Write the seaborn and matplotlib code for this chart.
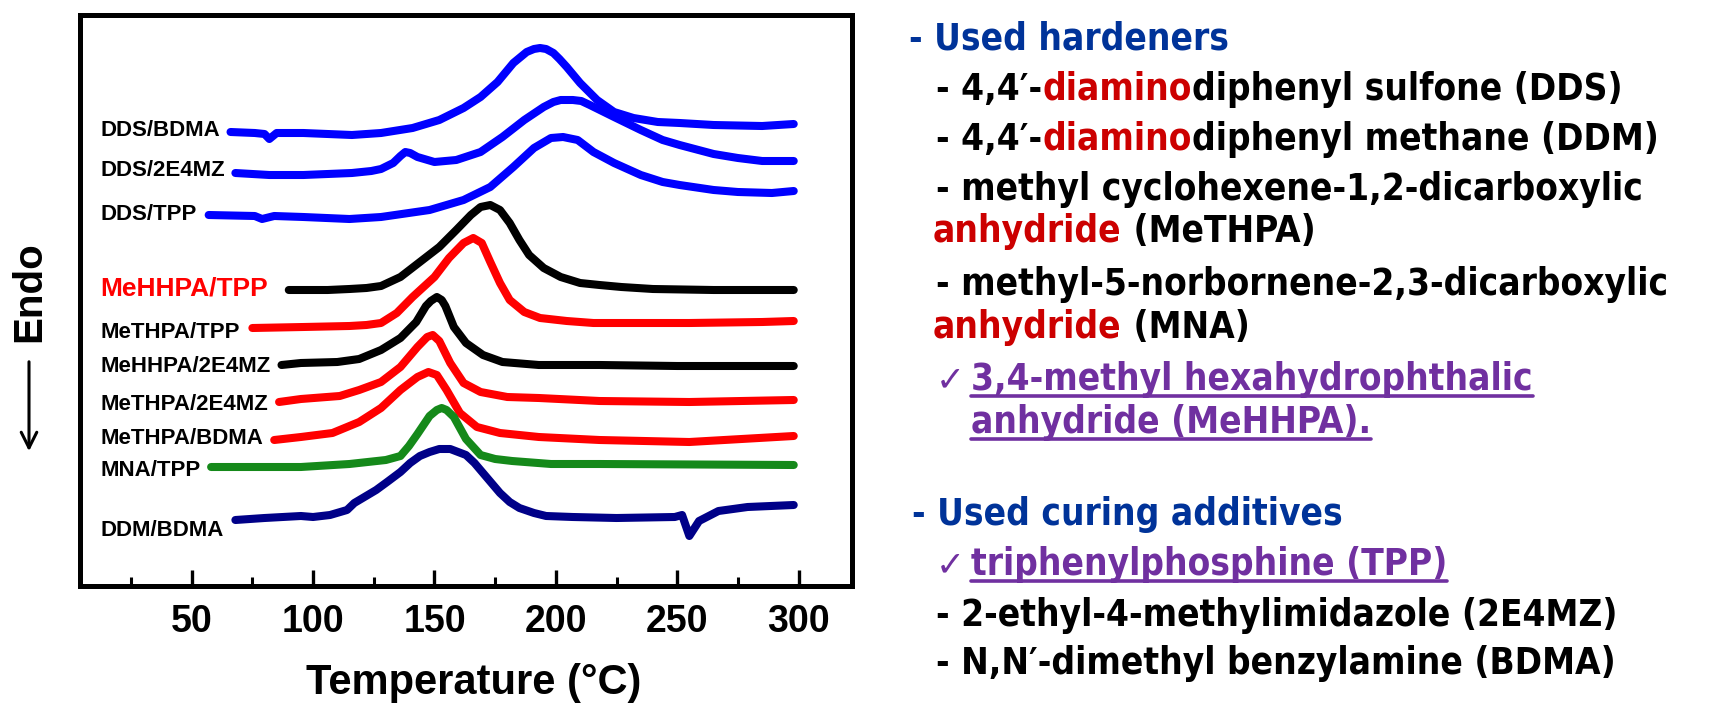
import matplotlib
matplotlib.use("Agg")
import matplotlib.pyplot as plt
from matplotlib.ticker import MultipleLocator
from matplotlib.lines import Line2D
import seaborn as sns

# DSC traces: temperature (C) and stacked heat flow (a.u.)
t_dds_bdma = [66, 76, 80, 82, 85, 96, 116, 128, 141, 152, 162, 169, 176, 182.5, 188, 191, 193.5, 196, 199, 201.5,
              204.5, 210, 217, 224, 232, 242, 251, 265, 285, 298]
hf_dds_bdma = [454, 453, 452, 447, 453, 453, 451, 453, 458, 466, 478, 489, 504, 523, 534, 537, 538, 537, 533, 527,
               519, 503, 486, 474, 468, 464, 463, 461, 460, 462]

t_dds_2e4mz = [68, 82, 96, 116, 124, 128, 133, 136, 138, 140, 143, 150, 159, 169, 178, 187, 195, 199, 202, 207,
               210.5, 214, 219, 224, 235, 244, 251, 265, 275, 285, 298]
hf_dds_2e4mz = [413, 411, 411, 413, 415, 417, 423, 430, 434, 433, 429, 424, 426, 434, 449, 466, 479, 484, 486, 486,
                485, 481, 475, 469, 456, 446, 441, 432, 428, 425, 425]

t_dds_tpp = [57, 76, 79, 84, 96, 115, 128, 148, 162, 173, 182.5, 191, 198, 203, 209, 215.5, 224, 235, 244, 251,
             265, 275, 289, 298]
hf_dds_tpp = [371, 370, 367, 370, 369, 367, 369, 376, 386, 399, 419, 438, 448, 449, 446, 434, 423, 411, 404, 401,
              396, 394, 393, 395]

t_mehhpa_tpp = [90, 106, 115, 122, 128, 136, 144, 152, 159, 165, 169, 173, 177, 181, 185, 189, 195, 202, 210, 218,
                227, 240, 265, 298]
hf_mehhpa_tpp = [296, 296, 297, 298, 300, 309, 324, 339, 356, 371, 379, 381, 376, 363, 346, 331, 318, 309, 303, 301,
                 299, 297, 296, 296]

t_methpa_tpp = [75, 96, 115, 122, 128, 134.5, 141, 150, 156, 162, 166, 169.5, 173, 177, 181, 187, 193.5, 204.5, 215.5,
                227, 255, 285, 298]
hf_methpa_tpp = [258, 259, 260, 261, 263, 273, 289, 309, 328, 343, 348, 343, 324, 303, 286, 274, 268, 265, 263,
                 263, 263, 264, 265]

t_mehhpa_2e4mz = [87, 95, 110, 119, 128, 136, 142.5, 146.5, 148.5, 151, 153, 154.5, 158, 163, 170, 178, 193, 218, 250, 298]
hf_mehhpa_2e4mz = [221, 223, 224, 227, 236, 248, 264, 280, 285, 289, 286, 280, 259, 243, 231, 224, 221, 221, 220, 220]

t_methpa_2e4mz = [86, 95, 111, 119, 128, 136, 143, 147, 149.3, 152, 156.5, 162, 169, 180, 193, 218, 255, 298]
hf_methpa_2e4mz = [184, 187, 190, 196, 204, 219, 239, 249, 251, 245, 223, 203, 194, 189, 188, 185, 184, 186]

t_methpa_bdma = [84, 95, 108, 119, 128, 136, 143, 147.5, 151, 155, 160.5, 167.5, 177, 193, 218, 255, 298]
hf_methpa_bdma = [146, 149, 153, 164, 178, 196, 209, 214, 211, 196, 173, 159, 153, 149, 146, 144, 150]

t_mna_tpp = [58, 95, 115, 130, 136, 139.5, 143, 148, 151, 153, 155, 158, 163, 169, 175, 182, 198, 218, 298]
hf_mna_tpp = [119, 119, 122, 126, 130, 140, 152, 170, 176, 178, 176, 169, 147, 131, 127, 125, 122, 122, 121]

t_ddm_bdma = [68, 80, 95, 100, 107, 114, 117, 126, 130.5, 136, 140, 144, 148, 152, 156.5, 163, 166.5, 170, 173.5, 177,
              181, 185, 191, 196, 207, 225, 249, 252, 255, 259, 267, 279, 298]
hf_ddm_bdma = [66, 68, 70, 69, 71, 76, 83, 96, 104, 114, 123, 130, 134, 137, 137, 131, 123, 113, 103, 93,
               84, 78, 73, 70, 69, 68, 69, 71, 50, 65, 75, 79, 81]

names = ["DDS/BDMA", "DDS/2E4MZ", "DDS/TPP", "MeHHPA/TPP", "MeTHPA/TPP",
         "MeHHPA/2E4MZ", "MeTHPA/2E4MZ", "MeTHPA/BDMA", "MNA/TPP", "DDM/BDMA"]
temps = [t_dds_bdma, t_dds_2e4mz, t_dds_tpp, t_mehhpa_tpp, t_methpa_tpp,
         t_mehhpa_2e4mz, t_methpa_2e4mz, t_methpa_bdma, t_mna_tpp, t_ddm_bdma]
flows = [hf_dds_bdma, hf_dds_2e4mz, hf_dds_tpp, hf_mehhpa_tpp, hf_methpa_tpp,
         hf_mehhpa_2e4mz, hf_methpa_2e4mz, hf_methpa_bdma, hf_mna_tpp, hf_ddm_bdma]
label_y = [455, 416, 371, 297, 254, 220, 181, 147, 116, 56]

line_colors = ["#0000ff", "#0000ff", "#0000ff", "black", "#ff0000",
               "black", "#ff0000", "#ff0000", "#15891a", "#000088"]

# text panel on the right
hdr_blue = "#003399"
txt_red = "#cc0000"
purple = "#7030a0"

sns.set_style("white")
plt.rcParams['font.family'] = ['Liberation Sans', 'DejaVu Sans']

W, H = 1717, 709
fig = plt.figure(figsize=(W / 100, H / 100), dpi=100)
ax = fig.add_axes([80 / W, 1 - 586 / H, 772 / W, 571 / H])

for t, hf, c in zip(temps, flows, line_colors):
    sns.lineplot(x=t, y=hf, ax=ax, color=c, lw=5.8, sort=False, estimator=None,
                 solid_capstyle='round', solid_joinstyle='round')

for name, ly in zip(names, label_y):
    big = name == "MeHHPA/TPP"
    ax.text(12.4, ly, name, ha='left', va='center', fontweight='bold',
            fontsize=19 if big else 16, color='#ff0000' if big else 'black')

ax.set_xlim(4, 322)
ax.set_ylim(0, 571)
ax.set_xticks([50, 100, 150, 200, 250, 300])
ax.xaxis.set_minor_locator(MultipleLocator(25))
ax.set_yticks([])
ax.tick_params(axis='x', which='major', direction='in', length=11.5, width=2.4,
               pad=13, labelsize=27, bottom=True, top=False, color='black', labelcolor='black')
ax.tick_params(axis='x', which='minor', direction='in', length=6.5, width=2.2,
               bottom=True, top=False, color='black')
for lbl in ax.get_xticklabels():
    lbl.set_fontweight('bold')
for sp in ax.spines.values():
    sp.set_linewidth(3.6)
    sp.set_color('black')
ax.set_xlabel('')
ax.set_ylabel('')

fig.text(474 / W, 1 - 683 / H, "Temperature (°C)", ha='center', va='center',
         fontsize=30, fontweight='bold', color='black')
fig.text(29 / W, 1 - 292 / H, "Endo", rotation=90, ha='center', va='center',
         fontsize=29, fontweight='bold', color='black')
ax.annotate('', xy=(29, H - 454), xytext=(29, H - 359), xycoords='figure pixels',
            textcoords='figure pixels',
            arrowprops=dict(arrowstyle='->', lw=2.2, color='black', mutation_scale=28))

# right-hand list of hardeners and additives
renderer = fig.canvas.get_renderer()
txt_kw = dict(fontsize=26.5, fontweight='bold', family='DejaVu Sans', fontstretch='condensed')


def width_px(s):
    t = fig.text(0, 0, s + '|', **txt_kw)
    w1 = t.get_window_extent(renderer).width
    t.set_text('|')
    w2 = t.get_window_extent(renderer).width
    t.remove()
    return w1 - w2


def put_line(x_px, base_px, pieces, underline=False):
    prefix = ''
    for s, c in pieces:
        xp = x_px + (width_px(prefix) if prefix else 0)
        fig.text(xp / W, 1 - base_px / H, s, color=c, ha='left', va='baseline', **txt_kw)
        prefix += s
    if underline:
        total = width_px(prefix)
        fig.add_artist(Line2D([x_px / W, (x_px + total) / W], [1 - (base_px + 6) / H] * 2,
                              color=pieces[0][1], lw=2.6))


def put_check(x_px, base_px):
    fig.text(x_px / W, 1 - base_px / H, "\u2713", color=purple, ha='left', va='baseline',
             fontsize=25, family='DejaVu Sans')


put_line(909, 50, [("- Used hardeners", hdr_blue)])
put_line(936, 100, [("- 4,4\u2032-", 'black'), ("diamino", txt_red), ("diphenyl sulfone (DDS)", 'black')])
put_line(936, 150, [("- 4,4\u2032-", 'black'), ("diamino", txt_red), ("diphenyl methane (DDM)", 'black')])
put_line(936, 200, [("- methyl cyclohexene-1,2-dicarboxylic", 'black')])
put_line(933, 242, [("anhydride", txt_red), (" (MeTHPA)", 'black')])
put_line(936, 295, [("- methyl-5-norbornene-2,3-dicarboxylic", 'black')])
put_line(933, 338, [("anhydride", txt_red), (" (MNA)", 'black')])
put_check(936, 390)
put_line(971, 390, [("3,4-methyl hexahydrophthalic", purple)], underline=True)
put_line(971, 433, [("anhydride (MeHHPA).", purple)], underline=True)
put_line(912, 525, [("- Used curing additives", hdr_blue)])
put_check(936, 575)
put_line(971, 575, [("triphenylphosphine (TPP)", purple)], underline=True)
put_line(936, 626, [("- 2-ethyl-4-methylimidazole (2E4MZ)", 'black')])
put_line(936, 674, [("- N,N\u2032-dimethyl benzylamine (BDMA)", 'black')])

fig.savefig("out.png", dpi=100)
